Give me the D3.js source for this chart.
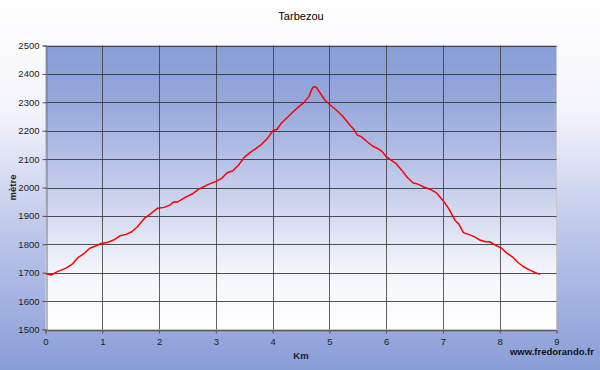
<!DOCTYPE html>
<html lang="fr">
<head><meta charset="utf-8"><title>Tarbezou</title>
<style>
body { margin: 0; padding: 0; }
svg { display: block; font-family: "Liberation Sans", Arial, sans-serif; }
</style>
</head>
<body>
<svg width="600" height="370"></svg>

<script src="https://cdnjs.cloudflare.com/ajax/libs/d3/7.8.5/d3.min.js"></script>
<script>
// Elevation profile, values
var dist = [0, 0.1, 0.2, 0.37, 0.47, 0.57, 0.67, 0.78, 0.88, 0.98,
    1.08, 1.2, 1.31, 1.42, 1.52, 1.62, 1.74, 1.85, 1.97,
    2.09, 2.19, 2.26, 2.33, 2.46, 2.6, 2.7, 2.77, 2.87,
    3.0, 3.1, 3.2, 3.3, 3.4, 3.5, 3.6, 3.71, 3.81, 3.91,
    4.0, 4.08, 4.15, 4.25, 4.35, 4.44, 4.55, 4.64, 4.69, 4.72, 4.77, 4.84, 4.92,
    5.0, 5.12, 5.24, 5.36, 5.43, 5.49, 5.56, 5.66, 5.76, 5.86, 5.93,
    6.0, 6.07, 6.17, 6.27, 6.37, 6.47, 6.57, 6.67, 6.77, 6.88, 6.94,
    7.01, 7.11, 7.21, 7.28, 7.36, 7.45, 7.55, 7.65, 7.75, 7.82, 7.92,
    8.02, 8.12, 8.22, 8.32, 8.42, 8.53, 8.63, 8.71];
var alt = [1697, 1692, 1703, 1717, 1730, 1753, 1766, 1786, 1794, 1803,
    1806, 1815, 1830, 1835, 1844, 1862, 1891, 1907, 1927,
    1930, 1938, 1950, 1949, 1965, 1979, 1994, 2001, 2011,
    2021, 2032, 2052, 2059, 2079, 2106, 2123, 2138, 2153, 2173,
    2199, 2205, 2226, 2245, 2264, 2281, 2299, 2320, 2346, 2355, 2353, 2332, 2308,
    2293, 2273, 2250, 2220, 2205, 2185, 2179, 2162, 2146, 2136, 2126,
    2109, 2099, 2085, 2062, 2036, 2017, 2011, 2001, 1994, 1982, 1968,
    1952, 1923, 1885, 1871, 1841, 1835, 1827, 1815, 1809, 1809, 1797,
    1788, 1770, 1756, 1736, 1721, 1709, 1700, 1694];

var xTicks = [0, 1, 2, 3, 4, 5, 6, 7, 8, 9];
var yTicks = [1500, 1600, 1700, 1800, 1900, 2000, 2100, 2200, 2300, 2400, 2500];

var title = "Tarbezou", xTitle = "Km", yTitle = "mètre", credit = "www.fredorando.fr";

var svg = d3.select("svg"),
    width = +svg.attr("width"),
    height = +svg.attr("height");

var margin = { left: 45.5, right: 43.5, top: 45.5, bottom: 40.5 };

var x = d3.scaleLinear().domain([0, 9]).range([margin.left, width - margin.right]);
var y = d3.scaleLinear().domain([1500, 2500]).range([height - margin.bottom, margin.top]);

// gradients
var defs = svg.append("defs");
var bg = defs.append("linearGradient").attr("id", "bg")
    .attr("x1", 0).attr("y1", 0).attr("x2", 0).attr("y2", 1);
bg.append("stop").attr("offset", "0").attr("stop-color", "#ffffff");
bg.append("stop").attr("offset", "0.3").attr("stop-color", "#f3f4fa");
bg.append("stop").attr("offset", "0.65").attr("stop-color", "#b9c4e9");
bg.append("stop").attr("offset", "1").attr("stop-color", "#899dd7");

var pg = defs.append("linearGradient").attr("id", "pg")
    .attr("x1", 0).attr("y1", 0).attr("x2", 0).attr("y2", 1);
pg.append("stop").attr("offset", "0").attr("stop-color", "#889dd7");
pg.append("stop").attr("offset", "0.2").attr("stop-color", "#96a8dc");
pg.append("stop").attr("offset", "0.5").attr("stop-color", "#c4cdec");
pg.append("stop").attr("offset", "0.78").attr("stop-color", "#f2f4fa");
pg.append("stop").attr("offset", "1").attr("stop-color", "#ffffff");

svg.append("rect").attr("width", width).attr("height", height).attr("fill", "url(#bg)");

svg.append("rect")
    .attr("x", x(0)).attr("y", y(2500))
    .attr("width", x(9) - x(0)).attr("height", y(1500) - y(2500))
    .attr("fill", "url(#pg)")
    .attr("stroke", "#c8c8c8");

// grid
var grid = svg.append("g");
grid.selectAll(".hg").data(yTicks).enter().append("line")
    .attr("x1", x(0)).attr("x2", x(9))
    .attr("y1", function(d) { return Math.round(y(d)) + 0.5; })
    .attr("y2", function(d) { return Math.round(y(d)) + 0.5; })
    .attr("stroke", "#333").attr("stroke-opacity", 0.85);
grid.selectAll(".vg").data(xTicks.slice(1, -1)).enter().append("line")
    .attr("y1", y(2500)).attr("y2", y(1500))
    .attr("x1", function(d) { return Math.round(x(d)) + 0.5; })
    .attr("x2", function(d) { return Math.round(x(d)) + 0.5; })
    .attr("stroke", "#3a3a3a").attr("stroke-opacity", 0.8);

// axes
var yAxis = svg.append("g")
    .attr("transform", "translate(" + (Math.round(x(0)) + 0.5) + ",0)")
    .call(d3.axisLeft(y).tickValues(yTicks).tickSize(4).tickPadding(3).tickFormat(d3.format("d")));
var xAxis = svg.append("g")
    .attr("transform", "translate(0," + (Math.round(y(1500)) + 0.5) + ")")
    .call(d3.axisBottom(x).tickValues(xTicks).tickSize(3).tickPadding(5).tickFormat(d3.format("d")));

[yAxis, xAxis].forEach(function(a) {
    a.select(".domain").attr("stroke", "#777");
    a.selectAll(".tick line").attr("stroke", "#555");
    a.selectAll("text").attr("fill", "#222").attr("font-size", 9.5)
        .attr("font-family", "'Liberation Sans', Arial, sans-serif");
});

// profile line
var line = d3.line()
    .x(function(d, i) { return x(dist[i]); })
    .y(function(d, i) { return y(alt[i]); });
svg.append("path").datum(alt)
    .attr("d", line)
    .attr("fill", "none")
    .attr("stroke", "#ff0000")
    .attr("stroke-width", 1.5)
    .attr("stroke-linejoin", "round");

// texts
svg.append("text").attr("x", 301).attr("y", 20)
    .attr("text-anchor", "middle").attr("font-size", 11).attr("fill", "#000")
    .text(title);
svg.append("text").attr("x", 301).attr("y", 359)
    .attr("text-anchor", "middle").attr("font-size", 9.5).attr("font-weight", "bold").attr("fill", "#222")
    .text(xTitle);
svg.append("text")
    .attr("transform", "translate(16," + ((y(1500) + y(2500)) / 2) + ") rotate(-90)")
    .attr("text-anchor", "middle").attr("font-size", 9.5).attr("font-weight", "bold").attr("fill", "#222")
    .text(yTitle);
svg.append("text").attr("x", 594).attr("y", 355)
    .attr("text-anchor", "end").attr("font-size", 9.5).attr("font-weight", "bold").attr("fill", "#111")
    .text(credit);
</script>
</body>
</html>
